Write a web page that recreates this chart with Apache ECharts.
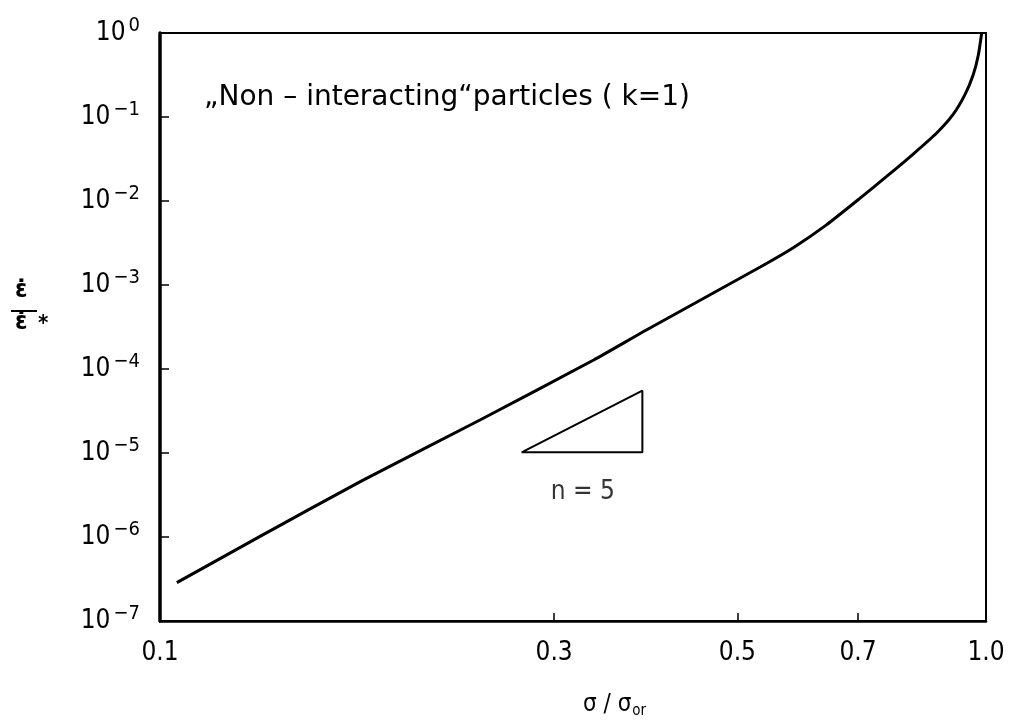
<!DOCTYPE html>
<html>
<head>
<meta charset="utf-8">
<script src="https://cdn.jsdelivr.net/npm/echarts@6/dist/echarts.min.js"></script>
<style>
html,body{margin:0;padding:0;background:#fff;}
#chart{width:1009px;height:727px;}
</style>
</head>
<body>
<div id="chart"></div>
<script>
// Data
const stressRatio = [0.1048, 0.132, 0.175, 0.244, 0.335, 0.388, 0.533, 0.585, 0.641, 0.704, 0.758, 0.817, 0.871, 0.912, 0.943, 0.965, 0.979, 0.988];
const strainRateRatio = [2.86e-7, 1.01e-6, 4.6e-6, 2.47e-5, 1.28e-4, 2.91e-4, 1.64e-3, 2.8e-3, 5.2e-3, 1.08e-2, 1.96e-2, 3.65e-2, 6.4e-2, 0.1065, 0.1845, 0.319, 0.552, 1.0];
// slope triangle (n = 5)
const triangleX = [0.274, 0.3837, 0.3837, 0.274];
const triangleY = [1.02e-5, 1.02e-5, 5.52e-5, 1.02e-5];
const slopeLabelPos = [0.325, 3.4e-6];
const xTickValues = [0.1, 0.3, 0.5, 0.7, 1.0];
const xTickLabels = ['0.1', '0.3', '0.5', '0.7', '1.0'];
const annotation = '\u201ENon \u2013 interacting\u201Cparticles ( k=1)';

const FONT = '"DejaVu Sans Condensed", "DejaVu Sans", sans-serif';
const chart = echarts.init(document.getElementById('chart'), null, {renderer: 'canvas'});

const curve = stressRatio.map((x, i) => [x, strainRateRatio[i]]);
const tri = triangleX.map((x, i) => [x, triangleY[i]]);

chart.setOption({
  backgroundColor: '#fff',
  animation: false,
  grid: {left: 160, right: 23, top: 33, bottom: 106, outerBoundsMode: 'none', containLabel: false,
         show: true, borderColor: '#000', borderWidth: 2, backgroundColor: 'transparent'},
  xAxis: {
    type: 'log', logBase: 10, min: 0.1, max: 1,
    axisLine: {show: true, lineStyle: {color: '#000', width: 2.5}},
    axisTick: {show: true, inside: true, length: 8, customValues: xTickValues.slice(1, 4), lineStyle: {color: '#000', width: 1.5}},
    minorTick: {show: false},
    splitLine: {show: false},
    axisLabel: {
      customValues: xTickValues,
      formatter: v => { const i = xTickValues.findIndex(t => Math.abs(t - v) < 1e-9); return i >= 0 ? xTickLabels[i] : ''; },
      color: '#000', fontFamily: FONT, fontSize: 26, margin: 19
    }
  },
  yAxis: {
    type: 'log', logBase: 10, min: 1e-7, max: 1,
    axisLine: {show: true, lineStyle: {color: '#000', width: 3.5}},
    axisTick: {show: true, inside: true, length: 9, lineStyle: {color: '#000', width: 1.5}},
    minorTick: {show: false},
    splitLine: {show: false},
    axisLabel: {
      formatter: v => {
        const e = Math.round(Math.log10(v));
        return '{b|10}{s|' + (e < 0 ? '\u2212' + (-e) : e) + '}';
      },
      margin: 20,
      rich: {
        b: {fontFamily: FONT, fontSize: 26, color: '#000'},
        s: {fontFamily: FONT, fontSize: 20, color: '#000', padding: [0, 0, 14, 3]}
      }
    }
  },
  series: [
    {
      type: 'line', data: curve, smooth: 0.2, showSymbol: false,
      lineStyle: {color: '#000', width: 3}
    },
    {
      type: 'line', data: tri, smooth: false, showSymbol: false,
      lineStyle: {color: '#000', width: 2}
    },
    {
      type: 'scatter', data: [slopeLabelPos], symbolSize: 0,
      label: {show: true, formatter: 'n = 5', position: 'inside', color: '#000', fontFamily: FONT, fontSize: 26}
    }
  ],
  graphic: [
    {type: 'text', left: 204, top: 84, style: {text: annotation, font: '28px "DejaVu Sans", sans-serif', fill: '#000'}},
    {type: 'text', left: 583, top: 693, style: {
      text: '{s|\u03C3 / \u03C3}{sub|or}',
      rich: {s: {font: '24px ' + FONT, fill: '#000'}, sub: {font: '15px ' + FONT, fill: '#000', padding: [12, 0, 0, 1]}}
    }},
    {type: 'text', left: 15, top: 278, style: {text: '\u03B5\u0307', font: 'bold 25px ' + FONT, fill: '#000'}},
    {type: 'line', shape: {x1: 11, y1: 311, x2: 37, y2: 311}, style: {stroke: '#000', lineWidth: 2}},
    {type: 'text', left: 15, top: 310, style: {text: '\u03B5\u0307', font: 'bold 25px ' + FONT, fill: '#000'}},
    {type: 'text', left: 38, top: 313, style: {text: '*', font: 'bold 22px ' + FONT, fill: '#000'}}
  ]
});
</script>
</body>
</html>
